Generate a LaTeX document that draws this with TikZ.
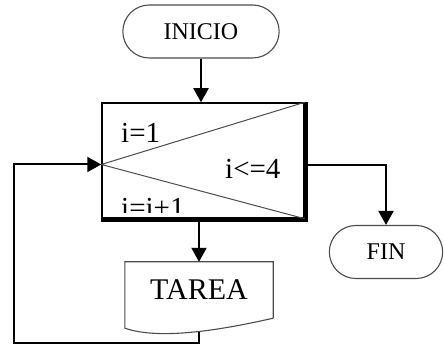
\documentclass[tikz,border=0pt]{standalone}
\usepackage{fontspec}
\setmainfont{Liberation Serif}
\usetikzlibrary{arrows.meta, positioning, shapes.misc}

\begin{document}
\begin{tikzpicture}[x=1pt, y=1pt,
    terminal/.style={draw=black!70, line width=1.1pt, rounded rectangle, minimum height=53pt, font=\fontsize{24}{24}\selectfont},
    flecha/.style={line width=2pt, -{Triangle[length=14pt,width=15pt]}},
    etiqueta/.style={inner sep=0pt, font=\fontsize{29}{29}\selectfont}
]
\useasboundingbox (0,0) rectangle (445,347);

% Start terminal
\node[terminal, minimum width=163pt] (inicio) at (201,315.5) {INICIO};

% Loop block with its shadowed border
\node[draw, line width=1.5pt, minimum width=202pt, minimum height=115pt, inner sep=0pt] (ciclo) at (203,186.5) {};
\draw[line width=4pt] ([yshift=-1pt]ciclo.south west) -- ([xshift=1pt,yshift=-1pt]ciclo.south east) -- ([xshift=1pt]ciclo.north east);
\coordinate (vertice) at ([yshift=-4pt]ciclo.west);
\draw[black!70, line width=1pt] (ciclo.north east) -- (vertice) -- (ciclo.south east);

% Loop texts
\node[etiqueta, anchor=base west] (inicial) at (121,204) {i=1};
\node[etiqueta, anchor=base west] (condicion) at (225,168) {i<=4};
\begin{scope}
  \clip ([yshift=6pt]ciclo.south west) rectangle (ciclo.north east);
  \node[etiqueta, anchor=base west] (incremento) at (121,129) {i=i+1};
\end{scope}

% Task (document shape)
\node[minimum width=148pt, minimum height=56pt, inner sep=0pt, font=\fontsize{30}{30}\selectfont] (tarea) at (199,57) {TAREA};
\draw[black!70, line width=1.1pt] (tarea.south east) -- (tarea.north east) -- (tarea.north west) -- ([yshift=-10pt]tarea.south west)
    .. controls ([xshift=35pt,yshift=-22pt]tarea.south west) and ([xshift=-53pt,yshift=-12pt]tarea.south east) .. (tarea.south east);
\coordinate (retorno) at ([yshift=-14pt]tarea.south);

% End terminal
\node[terminal, minimum width=120pt] (fin) at (386,95) {FIN};

% Connectors
\draw[flecha] (inicio.south) -- (inicio.south |- ciclo.north);
\draw[flecha] (tarea.north |- ciclo.south) -- (tarea.north);
\draw[flecha] (retorno) -- ++(0,-11) -| ([xshift=-87pt]vertice) -- (vertice);
\coordinate (salida) at ([yshift=-5pt]ciclo.east);
\draw[flecha] (salida) -| (fin.north);

\end{tikzpicture}
\end{document}
